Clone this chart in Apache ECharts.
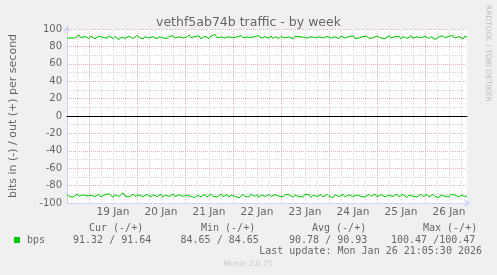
<!DOCTYPE html>
<html>
<head>
<meta charset="utf-8">
<script src="https://cdn.jsdelivr.net/npm/echarts@6/dist/echarts.min.js"></script>
<style>
html,body{margin:0;padding:0;background:#F0F0F0;}
#chart{width:497px;height:275px;}
</style>
</head>
<body>
<div id="chart"></div>
<script>
// hourly samples, Jan 18 13:00 .. Jan 26 21:00
const startDay = 18;
const startHour = 13;
const dayLabels = ['19 Jan','20 Jan','21 Jan','22 Jan','23 Jan','24 Jan','25 Jan','26 Jan'];
const yTickValues = [-100,-80,-60,-40,-20,0,20,40,60,80,100];

const outBps = [
89.2,91.3,89.8,92.0,89.5,90.9,93.1,89.8,88.9,91.4,90.6,89.1,91.9,90.2,88.7,90.8,91.7,89.6,90.3,91.2,
89.4,92.2,90.0,88.8,91.3,89.7,87.6,90.6,91.5,89.2,90.9,91.8,89.9,88.9,91.0,92.9,90.1,89.4,88.6,91.3,
92.0,89.8,89.1,91.2,90.4,88.5,91.1,92.6,89.9,90.5,88.9,91.5,90.0,92.3,89.6,89.0,91.1,91.8,89.7,88.8,
91.0,93.3,89.9,89.2,91.4,89.8,92.1,88.7,90.9,91.6,89.6,89.0,92.0,90.3,93.7,89.8,88.9,90.9,91.9,89.5,
88.6,91.2,92.0,89.8,89.2,91.1,89.6,92.5,90.0,89.0,90.8,91.7,90.2,88.8,91.5,89.7,92.3,89.6,88.5,91.1,
90.0,89.4,92.0,88.9,91.2,90.0,89.1,91.4,92.4,89.7,88.9,91.0,89.6,88.7,91.8,90.0,91.2,89.2,90.7,92.2,
89.5,88.9,91.2,92.9,89.9,89.0,91.0,91.5,89.7,88.6,91.4,92.1,89.6,89.2,91.1,89.9,88.9,91.9,90.0,89.5,
88.8,91.5,89.8,92.3,89.0,90.9,89.6,87.9,91.3,89.9,91.7,89.2,91.0,89.8,88.8,92.0,91.2,89.5,91.4,88.7,
90.1,92.5,89.6,89.0,91.2,89.8,91.9,88.6,91.4,89.9,89.2,91.3,92.2,89.5,88.8,91.1,93.0,89.9,89.0,91.7,
89.8,88.9,91.2,92.1,87.9,89.7,91.0,89.2,92.3,89.9,89.0,91.6,90.0,92.6,89.5,88.7,91.3,89.8,88.5,92.0,
90.2
];
const inBps = [
-90.1,-92.5,-90.4,-93.2,-91.6,-89.8,-92.3,-94.0,-90.6,-89.7,-92.0,-92.8,-91.0,-90.2,-92.6,-90.8,-89.9,-93.1,-91.8,-90.3,
-92.3,-89.5,-91.7,-93.4,-90.6,-90.0,-92.5,-91.0,-88.2,-92.1,-90.3,-92.9,-91.7,-89.9,-92.4,-93.7,-90.7,-89.8,-92.6,-91.0,
-90.2,-92.3,-93.0,-90.5,-89.7,-92.6,-91.0,-90.0,-93.4,-90.9,-90.3,-92.5,-91.1,-89.6,-92.7,-93.6,-90.6,-89.9,-92.2,-92.8,
-91.0,-90.1,-92.4,-90.6,-93.9,-91.2,-89.8,-92.6,-90.9,-90.2,-93.1,-91.8,-90.0,-92.3,-90.5,-92.9,-91.1,-89.7,-92.7,-91.0,
-90.3,-93.3,-90.8,-90.0,-92.4,-90.4,-94.0,-91.9,-90.1,-92.5,-90.9,-93.0,-89.8,-91.8,-92.6,-90.3,-93.5,-90.6,-89.6,-92.5,
-90.8,-90.1,-92.7,-93.2,-90.4,-89.9,-92.1,-91.0,-92.9,-90.2,-92.3,-90.6,-89.5,-93.4,-91.0,-90.1,-92.5,-90.8,-93.0,-90.0,
-92.0,-90.5,-93.5,-90.9,-89.8,-92.6,-90.6,-90.2,-93.1,-91.9,-90.0,-92.4,-90.8,-93.8,-90.4,-89.9,-92.7,-91.0,-90.1,-92.9,
-92.1,-90.6,-89.9,-92.5,-93.3,-90.8,-90.2,-92.4,-90.5,-93.2,-91.8,-90.0,-92.6,-90.9,-89.7,-93.0,-92.2,-90.4,-90.1,-92.8,
-93.4,-91.0,-90.2,-92.5,-90.6,-89.8,-92.9,-91.1,-90.1,-92.3,-93.6,-90.8,-90.0,-92.2,-90.5,-93.1,-91.0,-89.9,-92.6,-90.7,
-90.3,-93.2,-91.1,-90.0,-92.4,-90.8,-93.9,-90.5,-89.7,-92.5,-91.0,-93.0,-90.1,-92.2,-90.7,-89.9,-93.3,-90.9,-90.2,-92.4,
-93.0
];

const legendName = 'bps';
const curVals = [91.32, 91.64];
const minVals = [84.65, 84.65];
const avgVals = [90.78, 90.93];
const maxVals = [100.47, 100.47];
const lastUpdate = 'Last update: Mon Jan 26 21:05:30 2026';

const categories = outBps.map((_, i) => {
  const h = startHour + i;
  const d = startDay + Math.floor(h / 24);
  return d + ' Jan ' + String(h % 24).padStart(2, '0') + ':00';
});
const hourOf = v => parseInt(v.split(' ')[2], 10);
const dayOf = v => parseInt(v.split(' ')[0], 10);

const fmt = v => v.toFixed(2).padStart(6, ' ');
const pair = a => fmt(a[0]) + ' /' + fmt(a[1]);

const MONO = '"DejaVu Sans Mono", monospace';
const SANS = '"DejaVu Sans", sans-serif';
const FONTC = '#666666';
const MGRID = '#E9B0B0';
const GRID = '#D6D6D6';
const AXISC = '#CFD6F8';

function txt(x, y, text, opts) {
  return Object.assign({
    type: 'text', x: x, y: y, silent: true,
    style: Object.assign({ text: text, fill: FONTC, font: '10px ' + MONO, textVerticalAlign: 'middle' }, (opts && opts.style) || {})
  }, opts && opts.extra || {});
}

const chart = echarts.init(document.getElementById('chart'), null, { renderer: 'canvas' });
chart.setOption({
  animation: false,
  backgroundColor: '#F0F0F0',
  title: {
    text: 'vethf5ab74b traffic - by week',
    left: 'center', top: 11,
    textStyle: { color: FONTC, fontSize: 12.5, fontWeight: 'normal', fontFamily: SANS }
  },
  grid: { left: 66, top: 29, width: 401, height: 174, backgroundColor: '#FFFFFF', show: true, borderWidth: 0 },
  xAxis: [
    {
      type: 'category', data: categories, boundaryGap: false,
      axisLine: { onZero: false, lineStyle: { color: AXISC, width: 1 }, symbol: ['none', 'arrow'], symbolSize: [6, 7], symbolOffset: [0, 4] },
      axisTick: { show: false },
      axisLabel: {
        interval: (i, v) => hourOf(v) === 12,
        formatter: v => dayLabels[dayOf(v) - 19] || '',
        color: FONTC, fontSize: 10.5, fontFamily: SANS, margin: 4
      },
      splitLine: { show: true, interval: (i, v) => hourOf(v) === 0, lineStyle: { color: MGRID, type: [1, 1], width: 1 } }
    },
    {
      type: 'category', data: categories, boundaryGap: false, position: 'bottom',
      axisLine: { onZero: true, onZeroAxisIndex: 0, lineStyle: { color: '#000000', width: 1 } },
      axisTick: { show: false },
      axisLabel: { show: false },
      splitLine: { show: true, interval: (i, v) => hourOf(v) % 6 === 0 && hourOf(v) !== 0, lineStyle: { color: GRID, type: [1, 1], width: 1 } }
    }
  ],
  yAxis: {
    type: 'value', min: -100, max: 100, interval: 20,
    name: 'bits in (-) / out (+) per second', nameLocation: 'middle', nameGap: 48, nameRotate: 90,
    nameTextStyle: { color: FONTC, fontSize: 11, fontFamily: SANS },
    axisLine: { show: true, onZero: false, lineStyle: { color: AXISC, width: 1 }, symbol: ['none', 'arrow'], symbolSize: [6, 7], symbolOffset: [0, 4] },
    axisTick: { show: false },
    axisLabel: { color: FONTC, fontSize: 10, fontFamily: SANS, margin: 5, formatter: v => yTickValues.includes(v) ? String(v) : '' },
    splitLine: { show: true, lineStyle: { color: MGRID, type: [1, 1], width: 1 } },
    minorTick: { show: false, splitNumber: 2 },
    minorSplitLine: { show: true, lineStyle: { color: GRID, type: [1, 1], width: 1 } }
  },
  series: [
    { name: 'out', type: 'line', data: outBps, xAxisIndex: 0, showSymbol: false, symbol: 'none',
      lineStyle: { color: '#00CC00', width: 1 }, itemStyle: { color: '#00CC00' }, z: 5 },
    { name: 'in', type: 'line', data: inBps, xAxisIndex: 0, showSymbol: false, symbol: 'none',
      lineStyle: { color: '#00CC00', width: 1 }, itemStyle: { color: '#00CC00' }, z: 5 }
  ],
  graphic: [
    { type: 'rect', shape: { x: 14, y: 237, width: 6, height: 6 }, style: { fill: '#00CC00' }, silent: true },
    txt(27, 240, legendName),
    txt(89, 228, 'Cur (-/+)'),
    txt(201, 228, 'Min (-/+)'),
    txt(312, 228, 'Avg (-/+)'),
    txt(423, 228, 'Max (-/+)'),
    txt(67, 240, pair(curVals)),
    txt(174.5, 240, pair(minVals)),
    txt(283, 240, pair(avgVals)),
    txt(391, 240, pair(maxVals)),
    txt(482, 251.5, lastUpdate, { style: { textAlign: 'right' } }),
    txt(248, 264, 'Munin 2.0.75', { style: { textAlign: 'center', fill: '#C8C8C8', font: '7.5px ' + SANS } }),
    txt(488, 5, 'RRDTOOL / TOBI OETIKER', { style: { textAlign: 'left', fill: '#BDBDBD', font: '7.5px ' + SANS }, extra: { rotation: -Math.PI / 2 } })
  ]
});
</script>
</body>
</html>
